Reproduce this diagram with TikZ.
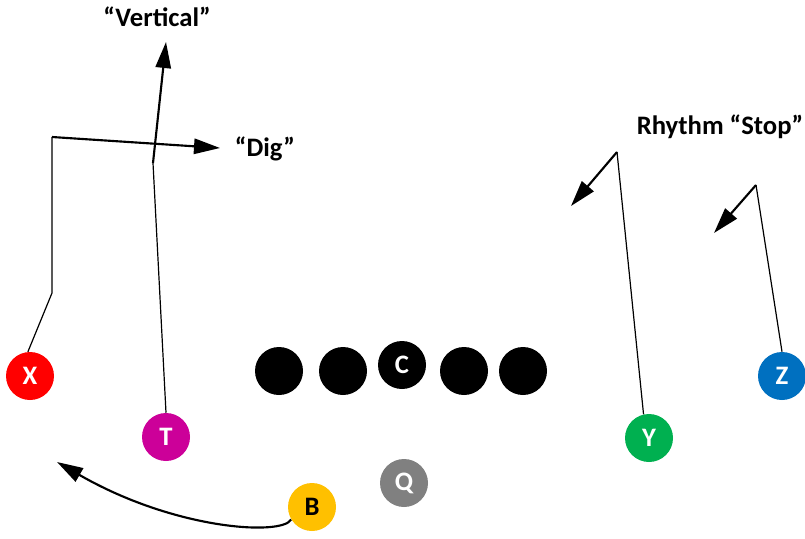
\documentclass[tikz,border=0pt]{standalone}
\usepackage{fontspec}
\setmainfont{Carlito}
\usetikzlibrary{arrows.meta}
\definecolor{xred}{RGB}{255,0,0}
\definecolor{tmag}{RGB}{204,0,153}
\definecolor{bgold}{RGB}{255,192,0}
\definecolor{qgray}{RGB}{128,128,128}
\definecolor{ygreen}{RGB}{0,176,80}
\definecolor{zblue}{RGB}{0,112,192}
\begin{document}
\begin{tikzpicture}[x=0.75pt,y=-0.75pt,
  player/.style={circle, minimum size=36pt, inner sep=0pt, text=white,
    font=\bfseries\fontsize{20}{20}\selectfont},
  lineman/.style={circle, fill=black, minimum size=36pt, inner sep=0pt},
  stem/.style={line width=0.9pt, line join=miter},
  breakarrow/.style={line width=1.6pt, -{Triangle[length=19.5pt,width=11.5pt]}},
  routelabel/.style={font=\bfseries\fontsize{20}{20}\selectfont, anchor=base}]
\useasboundingbox (0,0) rectangle (805,538);

% offensive line and skill players
\node[lineman] (lt) at (279,371) {};
\node[lineman] (lg) at (343,371) {};
\node[lineman, text=white, font=\bfseries\fontsize{20}{20}\selectfont] (C) at (402,365) {C};
\node[lineman] (rg) at (464,371) {};
\node[lineman] (rt) at (523,371) {};
\node[player, fill=xred]  (X) at (30,376) {X};
\node[player, fill=tmag]  (T) at (166,437) {T};
\node[player, fill=qgray] (Q) at (404,483) {Q};
\node[player, fill=bgold, text=black] (B) at (312,507) {B};
\node[player, fill=ygreen] (Y) at (649,438) {Y};
\node[player, fill=zblue]  (Z) at (782,376) {Z};

% route break points and arrow ends
\coordinate (xa) at (52,293);
\coordinate (xb) at (52,137);
\coordinate (xend) at (220,148);
\coordinate (ta) at (153,163);
\coordinate (tend) at (166,42);
\coordinate (ya) at (617,152);
\coordinate (yend) at (571,206);
\coordinate (za) at (756,185);
\coordinate (zend) at (714,233);
\coordinate (bend) at (57,462);

% X: stem, then the dig
\draw[stem] (X.95) -- (xa) -- (xb);
\draw[breakarrow] (xb) -- (xend);
% T: stem, then the vertical
\draw[stem] (T.north) -- (ta);
\draw[breakarrow] (ta) -- (tend);
% Y and Z: rhythm stops
\draw[stem] (Y.103) -- (ya);
\draw[breakarrow] (ya) -- (yend);
\draw[stem] (Z.north) -- (za);
\draw[breakarrow] (za) -- (zend);
% B: swing to the flat
\draw[breakarrow] (B.211) .. controls (282,536) and (175,530) .. (bend);

% route labels
\node[routelabel] (lvert) at (157,27) {“Vertical”};
\node[routelabel] (ldig) at (265,157) {“Dig”};
\node[routelabel] (lstop) at (720,135) {Rhythm “Stop”};
\end{tikzpicture}
\end{document}
